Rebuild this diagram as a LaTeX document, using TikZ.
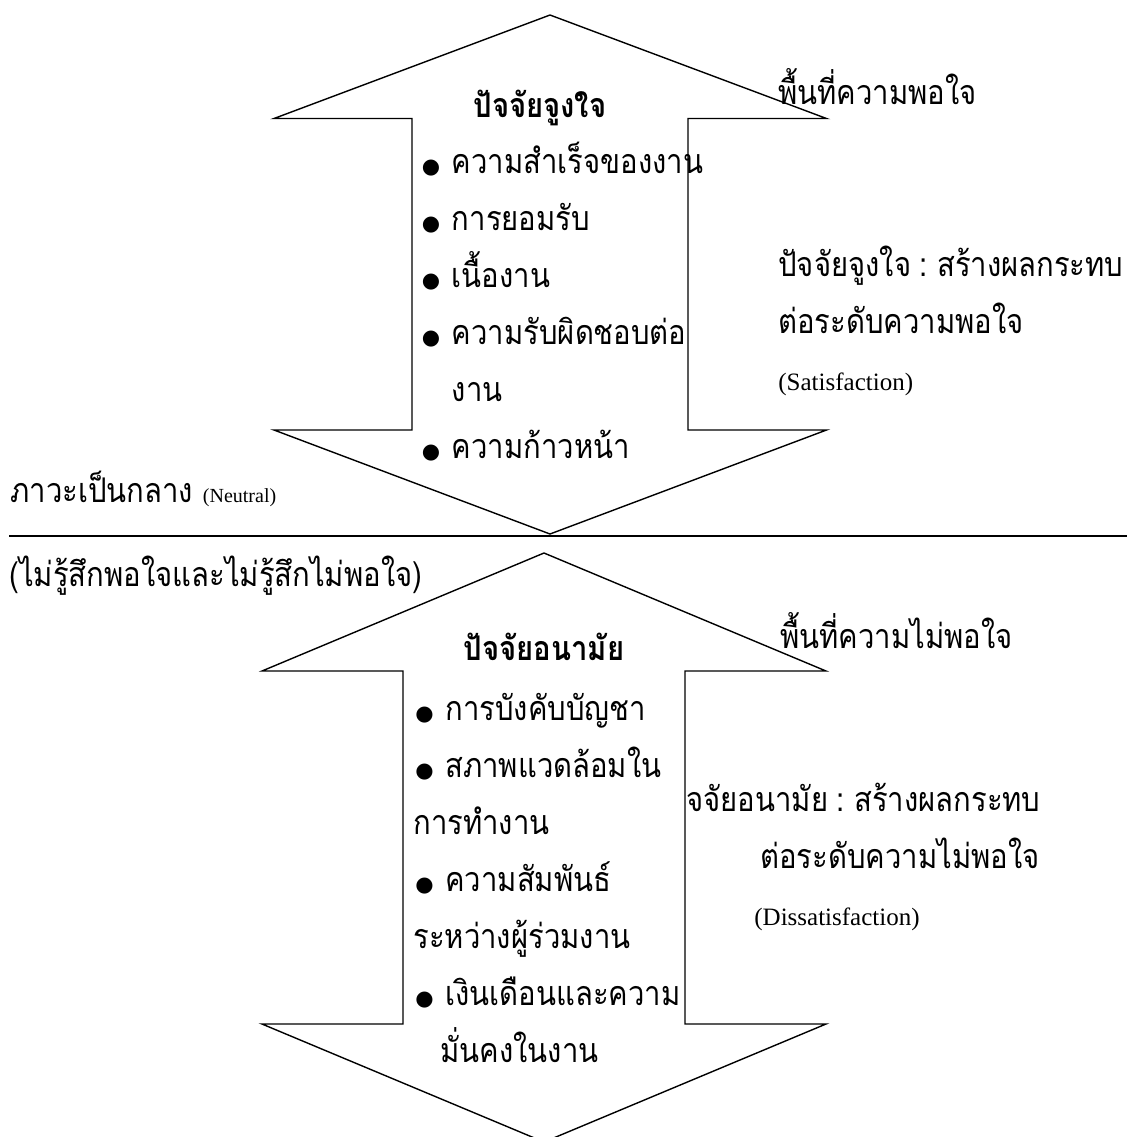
\documentclass[tikz,border=0pt]{standalone}
\usepackage{fontspec}
\setmainfont{Liberation Serif}
\newfontfamily\thaifont[Script=Thai,FakeStretch=0.86]{Loma}
\newfontfamily\dotfont{DejaVu Sans}
\usetikzlibrary{positioning}

\newcommand{\bul}{\makebox[15pt][l]{\dotfont\fontsize{10.5pt}{10pt}\selectfont ●}}
\newcommand{\lat}[2][12.5pt]{{\rmfamily\fontsize{#1}{14pt}\selectfont #2}}
\newcommand{\colsep}{\hspace{4pt}:\hspace{5pt}}

\tikzset{
	arrowshape/.style={draw, line width=0.7pt, line join=miter},
	divider/.style={draw, line width=0.85pt},
	txt/.style={font=\thaifont\fontsize{17pt}{20pt}\selectfont, inner sep=0pt, anchor=base west},
	head/.style={font=\thaifont\bfseries\fontsize{17pt}{20pt}\selectfont, inner sep=0pt, anchor=base},
	rowof/.style={below=28.5pt of #1.base west, anchor=base west},
}

\begin{document}
\begin{tikzpicture}[x=0.5pt,y=-0.5pt]
	\useasboundingbox (0,0) rectangle (1127,1137);
	\clip (0,0) rectangle (1127,1137);

	% upper arrow (motivators)
	\draw[arrowshape] (550,15) -- (826.5,118.5) -- (688,118.5) -- (688,430) -- (826.5,430)
		-- (550,534) -- (274,430) -- (412,430) -- (412,118.5) -- (274,118.5) -- cycle;
	% lower arrow (hygiene)
	\draw[arrowshape] (544,553) -- (826,671) -- (685,671) -- (685,1024) -- (826,1024)
		-- (544,1142) -- (262,1024) -- (403,1024) -- (403,671) -- (262,671) -- cycle;

	% neutral line
	\coordinate (lineL) at (9,536);
	\coordinate (lineR) at (1127,536);
	\draw[divider] (lineL) -- (lineR);

	% motivators
	\node[head] (mot) at (540,117) {ปัจจัยจูงใจ};
	\node[txt] (m1) at (421.5,173.5) {\bul ความสำเร็จของงาน};
	\node[txt, rowof=m1] (m2) {\bul การยอมรับ};
	\node[txt, rowof=m2] (m3) {\bul เนื้องาน};
	\node[txt, rowof=m3] (m4) {\bul ความรับผิดชอบต่อ};
	\node[txt, rowof=m4, xshift=15pt] (m4b) {งาน};
	\node[txt, rowof=m4b, xshift=-15pt] (m5) {\bul ความก้าวหน้า};

	\node[txt] (satzone) at (778,104) {พื้นที่ความพอใจ};
	\node[txt] (sat1) at (778,276.5) {ปัจจัยจูงใจ\colsep สร้างผลกระทบ};
	\node[txt, rowof=sat1] (sat2) {ต่อระดับความพอใจ};
	\node[txt, rowof=sat2] (sat3) {\lat{(Satisfaction)}};

	% neutral state
	\node[txt] (neu1) at (10,502) {ภาวะเป็นกลาง \lat[10pt]{(Neutral)}};
	\node[txt] (neu2) at (9,586) {(ไม่รู้สึกพอใจและไม่รู้สึกไม่พอใจ)};

	% hygiene factors
	\node[head] (hyg) at (544,660) {ปัจจัยอนามัย};
	\node[txt] (h1) at (415,720.5) {\bul การบังคับบัญชา};
	\node[txt, rowof=h1] (h2) {\bul สภาพแวดล้อมใน};
	\node[txt, rowof=h2, xshift=-1pt] (h2b) {การทำงาน};
	\node[txt, rowof=h2b, xshift=1pt] (h3) {\bul ความสัมพันธ์};
	\node[txt, rowof=h3, xshift=-1pt] (h3b) {ระหว่างผู้ร่วมงาน};
	\node[txt, rowof=h3b, xshift=1pt] (h4) {\bul เงินเดือนและความ};
	\node[txt, rowof=h4, xshift=12.5pt] (h4b) {มั่นคงในงาน};

	\node[txt] (dsatzone) at (780,648) {พื้นที่ความไม่พอใจ};
	\node[txt] (dsat1) at (686,811.5) {จจัยอนามัย\colsep สร้างผลกระทบ};
	\node[txt, rowof=dsat1, xshift=37pt] (dsat2) {ต่อระดับความไม่พอใจ};
	\node[txt, rowof=dsat2, xshift=-3pt] (dsat3) {\lat{(Dissatisfaction)}};
\end{tikzpicture}
\end{document}
